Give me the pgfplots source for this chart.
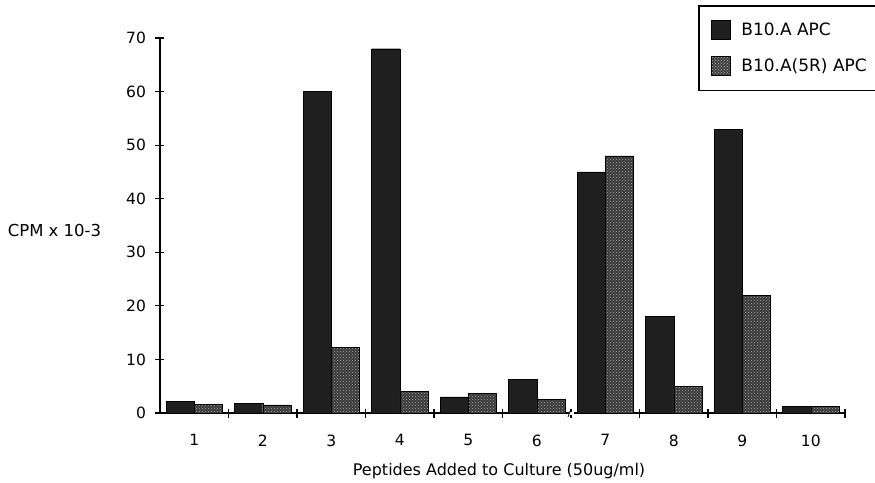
\documentclass[border=0pt]{standalone}
\usepackage{fontspec}
\setmainfont{DejaVu Sans}
\usepackage{pgfplots}
\pgfplotsset{compat=1.18}
\usetikzlibrary{patterns}
\pgfplotstableread{
x  a    b
1  2.2  1.6
2  1.8  1.5
3  60   12.2
4  68   4.0
5  3.0  3.7
6  6.3  2.5
7  45   48
8  18   5.0
9  53   22
10 1.2  1.2
}\datatable
\begin{document}
\begin{tikzpicture}[x=1pt,y=1pt]
\useasboundingbox (-160,-69) rectangle (715,413);
\begin{axis}[
  at={(0,0)}, anchor=south west,
  scale only axis, width=685pt, height=375pt,
  xmin=0.5, xmax=10.5, ymin=0, ymax=70,
  axis lines=left, axis line style={-, line width=1.1pt},
  clip=false,
  ytick={0,10,...,70},
  xtick={1.5,2.5,...,10.5}, xticklabels={},
  extra x ticks={1,...,10},
  extra x tick labels={1,2,3,4,5,6,7,8,9,10},
  extra x tick style={major tick length=0pt},
  tick align=center, major tick length=9pt,
  tick style={line width=1.1pt, black},
  /pgf/number format/assume math mode=true,
  tick label style={font=\fontsize{15.5}{18}\selectfont},
  yticklabel style={xshift=-6pt},
  xticklabel style={yshift=-18pt},
  xlabel={Peptides Added to Culture (50ug/ml)},
  xlabel style={font=\fontsize{16}{19}\selectfont, at={(axis description cs:0.495,-0.155)}, anchor=center},
  ylabel={CPM x 10-3},
  ylabel style={font=\fontsize{16.5}{19}\selectfont, rotate=-90, at={(axis description cs:-0.154,0.488)}, anchor=center},
  legend style={draw=black, line width=1.6pt, at={(axis description cs:0.7854,1.088)}, anchor=north west,
    font=\fontsize{17}{20}\selectfont, row sep=16pt, inner xsep=12pt, inner ysep=14pt,
    cells={anchor=west}, nodes={inner sep=3pt},
    /tikz/every odd column/.append style={column sep=8pt}},
  legend cell align=left,
]
\addplot[ybar, bar width=0.41, bar shift=-0.205, draw=black, fill=black!88,
  legend image code/.code={\draw[line width=0.6pt, draw=black, fill=black!88] (0pt,-9.5pt) rectangle (19pt,9.5pt);}]
  table[x=x,y=a]{\datatable};
\addlegendentry{B10.A APC}
\addplot[ybar, bar width=0.41, bar shift=0.205, draw=black, fill=black!78,
  postaction={pattern=crosshatch dots, pattern color=black!32},
  legend image code/.code={\draw[line width=0.6pt, draw=black, fill=black!78, postaction={pattern=crosshatch dots, pattern color=black!32}] (0pt,-9.5pt) rectangle (19pt,9.5pt);}]
  table[x=x,y=b]{\datatable};
\addlegendentry{B10.A(5R) APC}
\fill[white] ([xshift=-2.5pt,yshift=-1.5pt]axis cs:6.5,0) rectangle ([xshift=2.5pt,yshift=1.5pt]axis cs:6.5,0);
\draw[line width=0.8pt] ([xshift=-3pt,yshift=-4pt]axis cs:6.5,0) -- ([xshift=0pt,yshift=4pt]axis cs:6.5,0);
\end{axis}
\end{tikzpicture}
\end{document}
